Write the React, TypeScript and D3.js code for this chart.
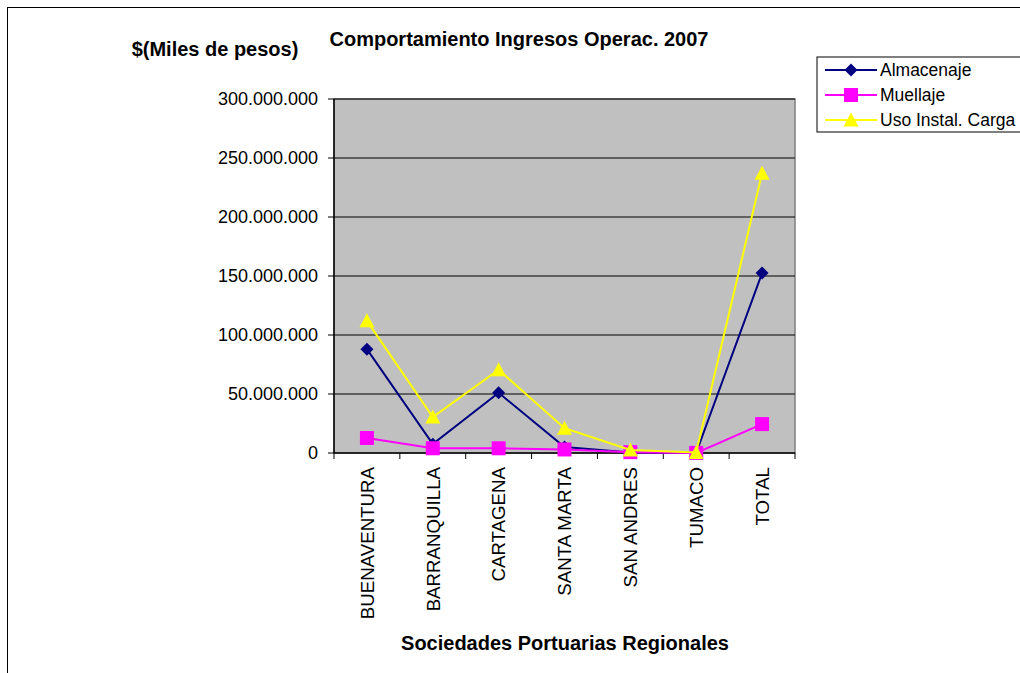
import React from 'react';
import * as d3 from 'd3';

// data (values in pesos, thousands)
const categories = ['BUENAVENTURA', 'BARRANQUILLA', 'CARTAGENA', 'SANTA MARTA', 'SAN ANDRES', 'TUMACO', 'TOTAL'];
const almacenaje = [88000000, 7500000, 51000000, 5000000, 500000, 200000, 152500000];
const muellaje = [12700000, 4000000, 4000000, 3000000, 700000, 100000, 24500000];
const usoInstal = [112000000, 30500000, 70500000, 21000000, 2500000, 500000, 237000000];
const yTicks = [0, 50000000, 100000000, 150000000, 200000000, 250000000, 300000000];

const seriesNames = ['Almacenaje', 'Muellaje', 'Uso Instal. Carga'];
const seriesColors = ['#000080', '#FF00FF', '#FFFF00'];
const seriesMarkers = ['diamond', 'square', 'triangle'];

const FONT = 'Arial, "Liberation Sans", sans-serif';

const fmt = (v: number) => (v === 0 ? '0' : d3.format(',')(v).replace(/,/g, '.'));

const markerPath = (kind: string) => {
  if (kind === 'diamond') return 'M0,-6.5L6.5,0L0,6.5L-6.5,0Z';
  if (kind === 'square') return 'M-7,-7H7V7H-7Z';
  return 'M0,-7.5L7.5,6.5H-7.5Z';
};

const App: React.FC = () => {
  // page coordinates (svg is fixed at the top-left corner)
  const left = 334;
  const right = 795;
  const top = 99;
  const bottom = 453;

  const x = d3.scaleBand<string>().domain(categories).range([left, right]);
  const y = d3.scaleLinear().domain([0, 300000000]).range([bottom, top]);

  const line = d3
    .line<number>()
    .x((_, i) => (x(categories[i]) as number) + x.bandwidth() / 2)
    .y((d) => y(d));

  const allSeries = [almacenaje, muellaje, usoInstal];

  return (
    <svg
      width={1020}
      height={673}
      style={{ position: 'fixed', left: 0, top: 0, display: 'block', fontFamily: FONT, background: '#fff' }}
    >
      <rect x={7.5} y={7.5} width={1100} height={1000} fill="#fff" stroke="#000" strokeWidth={1} />

      {/* plot area */}
      <rect x={left} y={top} width={right - left} height={bottom - top} fill="#C0C0C0" stroke="#808080" strokeWidth={1.5} />
      {yTicks.slice(1).map((t) => (
        <line key={t} x1={left} x2={right} y1={y(t)} y2={y(t)} stroke="#000" strokeWidth={1} />
      ))}

      {/* y axis */}
      <line x1={left} x2={left} y1={top} y2={bottom} stroke="#000" strokeWidth={1.5} />
      {yTicks.map((t) => (
        <g key={t}>
          <line x1={left - 6} x2={left} y1={y(t)} y2={y(t)} stroke="#000" strokeWidth={1} />
          <text x={318} y={y(t)} dy="0.36em" textAnchor="end" fontSize={18} fill="#000">
            {fmt(t)}
          </text>
        </g>
      ))}

      {/* x axis */}
      <line x1={left} x2={right} y1={bottom} y2={bottom} stroke="#000" strokeWidth={1.5} />
      {categories.map((c, i) => (
        <line key={'t' + c} x1={left + i * x.bandwidth()} x2={left + i * x.bandwidth()} y1={bottom} y2={bottom + 6} stroke="#000" strokeWidth={1} />
      ))}
      <line x1={right} x2={right} y1={bottom} y2={bottom + 6} stroke="#000" strokeWidth={1} />
      {categories.map((c) => {
        const cx = (x(c) as number) + x.bandwidth() / 2;
        return (
          <text key={c} transform={`translate(${cx},467) rotate(-90)`} dy="0.36em" textAnchor="end" fontSize={18.7} fill="#000">
            {c}
          </text>
        );
      })}

      {/* series */}
      {allSeries.map((s, si) => (
        <g key={seriesNames[si]}>
          <path d={line(s) as string} fill="none" stroke={seriesColors[si]} strokeWidth={2} />
          {s.map((v, i) => (
            <path
              key={i}
              d={markerPath(seriesMarkers[si])}
              transform={`translate(${(x(categories[i]) as number) + x.bandwidth() / 2},${y(v)})`}
              fill={seriesColors[si]}
            />
          ))}
        </g>
      ))}

      {/* titles */}
      <text x={519} y={46} textAnchor="middle" fontSize={20} fontWeight="bold" fill="#000">
        Comportamiento Ingresos Operac. 2007
      </text>
      <text x={215} y={56} textAnchor="middle" fontSize={20} fontWeight="bold" fill="#000">
        $(Miles de pesos)
      </text>
      <text x={565} y={650} textAnchor="middle" fontSize={20} fontWeight="bold" fill="#000">
        Sociedades Portuarias Regionales
      </text>

      {/* legend */}
      <rect x={817} y={57} width={300} height={75} fill="#fff" stroke="#000" strokeWidth={1} />
      {seriesNames.map((n, i) => {
        const ly = 70 + i * 25;
        return (
          <g key={n}>
            <line x1={825} x2={877} y1={ly} y2={ly} stroke={seriesColors[i]} strokeWidth={2} />
            <path d={markerPath(seriesMarkers[i])} transform={`translate(851,${ly})`} fill={seriesColors[i]} />
            <text x={880} y={ly} dy="0.36em" fontSize={17.5} fill="#000">
              {n}
            </text>
          </g>
        );
      })}
    </svg>
  );
};

export default App;
